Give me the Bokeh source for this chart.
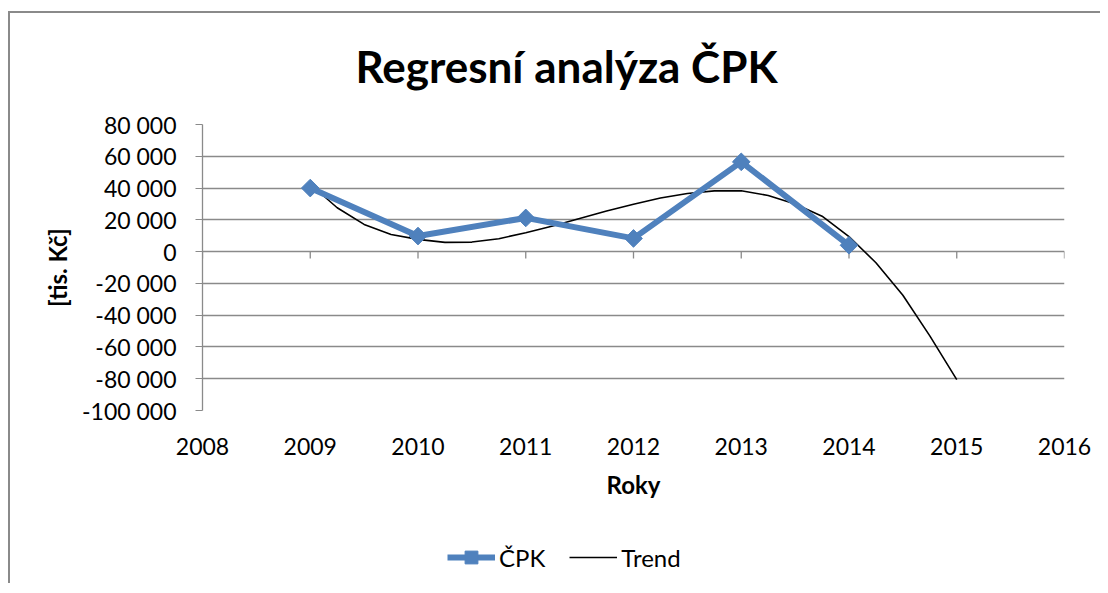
from bokeh.plotting import figure
from bokeh.layouts import column
from bokeh.models import (Range1d, FixedTicker, CustomJSTickFormatter,
                          Legend, LegendItem, Label)
from bokeh.embed import file_html
from bokeh.resources import INLINE

# ---- data ----
years = [2009, 2010, 2011, 2012, 2013, 2014]
cpk = [40000, 9800, 21200, 8300, 56500, 4000]

trend_years = [2009.0, 2009.25, 2009.5, 2009.75, 2010.0, 2010.25, 2010.5, 2010.75,
               2011.0, 2011.25, 2011.5, 2011.75, 2012.0, 2012.25, 2012.5, 2012.75,
               2013.0, 2013.25, 2013.5, 2013.75, 2014.0, 2014.25, 2014.5, 2014.75, 2015.0]
trend_values = [42400, 27600, 17100, 10800, 7700, 5800, 6000, 8100,
                11900, 16100, 20900, 25600, 29800, 33700, 36600, 38200,
                38300, 35300, 30000, 22300, 9500, -7000, -27500, -53000, -80600]

x_ticks = [2008, 2009, 2010, 2011, 2012, 2013, 2014, 2015, 2016]
y_ticks = [-100000, -80000, -60000, -40000, -20000, 0, 20000, 40000, 60000, 80000]

title_text = "Regresní analýza ČPK"
x_label = "Roky"
y_label = "[tis. Kč]"
series_names = ["ČPK", "Trend"]

GRAY = "#8a8a8a"
BLUE = "#4f81bd"
FONT = "Lato"
W = 1090

# ---- title strip ----
hd = figure(width=W, height=91, output_backend="svg", toolbar_location=None,
            x_axis_type=None, y_axis_type=None, min_border=0,
            x_range=Range1d(0, 1), y_range=Range1d(0, 1))
hd.outline_line_color = None
hd.add_layout(Label(x=364, y=39, x_units="screen", y_units="screen", text=title_text,
                    text_align="center", text_baseline="middle", text_font=FONT,
                    text_font_size="44px", text_font_style="bold", text_color="black"))

# ---- main chart ----
FRAME_H = 286
p = figure(width=W, height=419, output_backend="svg", toolbar_location=None,
           x_range=Range1d(x_ticks[0], x_ticks[-1]),
           y_range=Range1d(y_ticks[0], y_ticks[-1]),
           min_border_left=192, min_border_right=36, min_border_top=20, min_border_bottom=113)

p.outline_line_color = None
p.background_fill_color = "white"
p.border_fill_color = "white"

# grid
p.xgrid.grid_line_color = None
p.ygrid.ticker = FixedTicker(ticks=y_ticks)
p.ygrid.grid_line_color = GRAY
p.ygrid.grid_line_width = 1.3

# x axis (labels only, at bottom)
xa = p.xaxis[0]
xa.ticker = FixedTicker(ticks=x_ticks)
xa.axis_line_color = None
xa.major_tick_line_color = None
xa.minor_tick_line_color = None
xa.major_label_text_font = FONT
xa.major_label_text_font_size = "23px"
xa.major_label_text_color = "black"
xa.major_label_standoff = 21
xa.axis_label = x_label
xa.axis_label_text_font = FONT
xa.axis_label_text_font_size = "24px"
xa.axis_label_text_font_style = "bold"
xa.axis_label_text_color = "black"
xa.axis_label_standoff = 12

# y axis
ya = p.yaxis[0]
ya.ticker = FixedTicker(ticks=y_ticks)
ya.formatter = CustomJSTickFormatter(code="""
    var s = Math.abs(tick).toFixed(0).replace(/\\B(?=(\\d{3})+(?!\\d))/g, ' ');
    return (tick < 0 ? '-' : '') + s;
""")
ya.axis_line_color = GRAY
ya.axis_line_width = 1.3
ya.major_tick_line_color = GRAY
ya.major_tick_out = 7
ya.major_tick_in = 0
ya.minor_tick_line_color = None
ya.major_label_text_font = FONT
ya.major_label_text_font_size = "23px"
ya.major_label_text_color = "black"
ya.major_label_standoff = 19
ya.axis_label = y_label
ya.axis_label_text_font = FONT
ya.axis_label_text_font_size = "24px"
ya.axis_label_text_font_style = "bold"
ya.axis_label_text_color = "black"
ya.axis_label_standoff = 7

# tick marks hanging below the zero line (7px long)
tick_len = (y_ticks[-1] - y_ticks[0]) * 7 / FRAME_H
p.segment(x0=x_ticks, x1=x_ticks, y0=[0] * len(x_ticks), y1=[-tick_len] * len(x_ticks),
          line_color=GRAY, line_width=1.3)

# series
p.line(trend_years, trend_values, line_color="black", line_width=1.6)
p.line(years, cpk, line_color=BLUE, line_width=6)
p.scatter(years, cpk, marker="square", angle=0.785398, size=12.5,
          fill_color=BLUE, line_color=BLUE)

# ---- legend strip; its renderers lie outside its (0..1) view, only swatches show ----
lg = figure(width=W, height=60, output_backend="svg", toolbar_location=None,
            x_axis_type=None, y_axis_type=None, min_border=0,
            x_range=Range1d(0, 1), y_range=Range1d(0, 1))
lg.outline_line_color = None
lg_line = lg.line(years, cpk, line_color=BLUE, line_width=6)
lg_mark = lg.scatter(years, cpk, marker="square", angle=0.785398, size=10,
                     fill_color=BLUE, line_color=BLUE)
lg_trend = lg.line(trend_years, trend_values, line_color="black", line_width=1.6)
legend = Legend(items=[LegendItem(label=series_names[0], renderers=[lg_line, lg_mark]),
                       LegendItem(label=series_names[1], renderers=[lg_trend])],
                orientation="horizontal", location=(245, 10))
legend.label_text_font = FONT
legend.label_text_font_size = "24px"
legend.label_text_color = "black"
legend.glyph_width = 48
legend.glyph_height = 32
legend.label_standoff = 4
legend.spacing = 24
legend.padding = 0
legend.margin = 0
legend.border_line_color = None
legend.background_fill_alpha = 0
lg.add_layout(legend, "center")

layout = column(hd, p, lg, spacing=0)
layout.styles = {"margin-left": "8px", "margin-top": "11px",
                 "border-top": f"2px solid {GRAY}", "border-left": f"2px solid {GRAY}"}

open("out.html", "w").write(file_html(layout, INLINE))
